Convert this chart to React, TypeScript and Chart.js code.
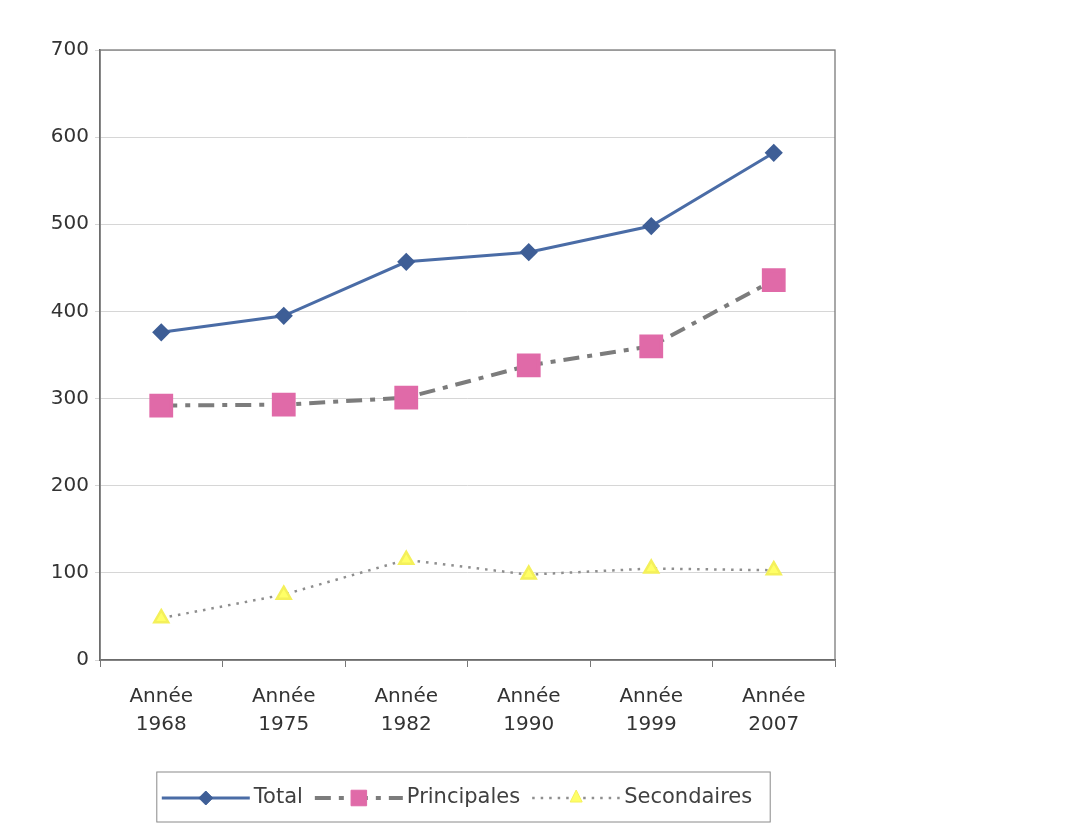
import React, { useEffect, useRef } from 'react';
import { Chart, registerables } from 'chart.js';

Chart.register(...registerables);

const FONT = '"DejaVu Sans", "Liberation Sans", Arial, sans-serif';

const categories: string[][] = [
  ['Année', '1968'],
  ['Année', '1975'],
  ['Année', '1982'],
  ['Année', '1990'],
  ['Année', '1999'],
  ['Année', '2007'],
];
const totalValues = [376, 395, 457, 468, 498, 582];
const principalesValues = [292, 293, 301, 338, 360, 436];
const secondairesValues = [48, 75, 115, 98, 105, 103];
const seriesNames = ['Total', 'Principales', 'Secondaires'];
const yMin = 0;
const yMax = 700;
const yStep = 100;

function drawMarker(ctx: CanvasRenderingContext2D, style: string, x: number, y: number, r: number, fill: string, stroke: string) {
  ctx.save();
  ctx.setLineDash([]);
  ctx.fillStyle = fill;
  ctx.strokeStyle = stroke;
  ctx.lineWidth = 1;
  ctx.beginPath();
  if (style === 'rectRot') {
    ctx.moveTo(x, y - r);
    ctx.lineTo(x + r, y);
    ctx.lineTo(x, y + r);
    ctx.lineTo(x - r, y);
    ctx.closePath();
  } else if (style === 'rect') {
    const s = r * Math.SQRT1_2;
    ctx.rect(x - s, y - s, 2 * s, 2 * s);
  } else {
    const h = r * 1.5;
    ctx.moveTo(x, y - r);
    ctx.lineTo(x + r * 0.75, y + h - r);
    ctx.lineTo(x - r * 0.75, y + h - r);
    ctx.closePath();
  }
  ctx.fill();
  ctx.stroke();
  ctx.restore();
}

const framePlugin = {
  id: 'frame',
  beforeDatasetsDraw(chart: any) {
    const { ctx, chartArea: ca } = chart;
    ctx.save();
    ctx.strokeStyle = '#7a7a7a';
    ctx.lineWidth = 1.3;
    ctx.strokeRect(ca.left, ca.top, ca.right - ca.left, ca.bottom - ca.top);
    ctx.restore();
  },
};

const boxLegendPlugin = {
  id: 'boxLegend',
  afterDraw(chart: any) {
    const { ctx, chartArea: ca } = chart;
    ctx.save();
    ctx.font = `21px ${FONT}`;
    const sampleW = 88;
    const gapText = 4;
    const gapItem = 12;
    const padL = 5;
    const padR = 18;
    const datasets = chart.data.datasets;
    const widths = datasets.map((ds: any) => ctx.measureText(ds.label).width);
    const content = widths.reduce((s: number, w: number) => s + sampleW + gapText + w, 0) + gapItem * (datasets.length - 1);
    const boxW = content + padL + padR;
    const boxH = 50;
    const cx = (ca.left + ca.right) / 2 - 4;
    const boxLeft = cx - boxW / 2;
    const boxTop = ca.bottom + 112;
    ctx.strokeStyle = '#8a8a8a';
    ctx.lineWidth = 1;
    ctx.strokeRect(boxLeft, boxTop, boxW, boxH);
    const cy = boxTop + boxH / 2 + 1;
    let x = boxLeft + padL;
    datasets.forEach((ds: any, i: number) => {
      ctx.save();
      ctx.strokeStyle = ds.borderColor;
      ctx.lineWidth = ds.borderWidth;
      ctx.setLineDash(ds.borderDash || []);
      ctx.lineCap = ds.borderCapStyle || 'butt';
      ctx.beginPath();
      ctx.moveTo(x, cy);
      ctx.lineTo(x + sampleW, cy);
      ctx.stroke();
      ctx.restore();
      const r = ds.pointStyle === 'rect' ? 11 : ds.pointRadius;
      drawMarker(ctx, ds.pointStyle, x + sampleW / 2, cy, r, ds.pointBackgroundColor, ds.pointBorderColor);
      ctx.fillStyle = '#404040';
      ctx.textBaseline = 'middle';
      ctx.textAlign = 'left';
      ctx.fillText(ds.label, x + sampleW + gapText, cy);
      x += sampleW + gapText + widths[i] + gapItem;
    });
    ctx.restore();
  },
};

export default function App() {
  const canvasRef = useRef<HTMLCanvasElement | null>(null);

  useEffect(() => {
    if (!canvasRef.current) return;
    const chart = new Chart(canvasRef.current, {
      type: 'line',
      data: {
        labels: categories,
        datasets: [
          {
            label: seriesNames[0],
            data: totalValues,
            borderColor: '#4A6CA6',
            borderWidth: 3,
            pointStyle: 'rectRot',
            pointRadius: 7,
            pointBackgroundColor: '#3E5E96',
            pointBorderColor: '#3E5E96',
            tension: 0,
          },
          {
            label: seriesNames[1],
            data: principalesValues,
            borderColor: '#7C7C7C',
            borderWidth: 4,
            borderDash: [16, 8, 5, 8],
            pointStyle: 'rect',
            pointRadius: 14,
            pointBackgroundColor: '#E06AA8',
            pointBorderColor: '#E06AA8',
            tension: 0,
          },
          {
            label: seriesNames[2],
            data: secondairesValues,
            borderColor: '#8E8E8E',
            borderWidth: 2.5,
            borderDash: [2.5, 6],
            pointStyle: 'triangle',
            pointRadius: 8,
            pointBackgroundColor: '#FFFF66',
            pointBorderColor: '#F4F05A',
            tension: 0,
          },
        ] as any,
      },
      options: {
        responsive: false,
        animation: false,
        layout: { padding: { top: 42, right: 228, bottom: 67, left: 0 } },
        plugins: {
          legend: { display: false },
          tooltip: { enabled: false },
        },
        scales: {
          x: {
            type: 'category',
            offset: true,
            grid: {
              display: true,
              drawOnChartArea: false,
              drawTicks: true,
              tickLength: 7,
              color: '#777',
              offset: true,
            },
            border: { display: true, color: '#555', width: 1.5 },
            ticks: {
              font: { family: FONT, size: 20, lineHeight: 1.38 },
              color: '#333',
              padding: 16,
              maxRotation: 0,
              autoSkip: false,
            },
            afterFit(s: any) {
              s.height = 100;
            },
          },
          y: {
            min: yMin,
            max: yMax,
            ticks: {
              stepSize: yStep,
              font: { family: FONT, size: 20 },
              color: '#333',
              padding: 6,
            },
            grid: { color: '#d6d6d6', lineWidth: 1, tickLength: 5, drawTicks: true },
            border: { display: true, color: '#555', width: 1.5 },
            afterFit(s: any) {
              s.width = 92;
            },
          },
        },
      } as any,
      plugins: [framePlugin, boxLegendPlugin],
    });
    return () => chart.destroy();
  }, []);

  return (
    <div style={{ width: 1055, height: 819 }}>
      <canvas ref={canvasRef} width={1055} height={819} />
    </div>
  );
}
